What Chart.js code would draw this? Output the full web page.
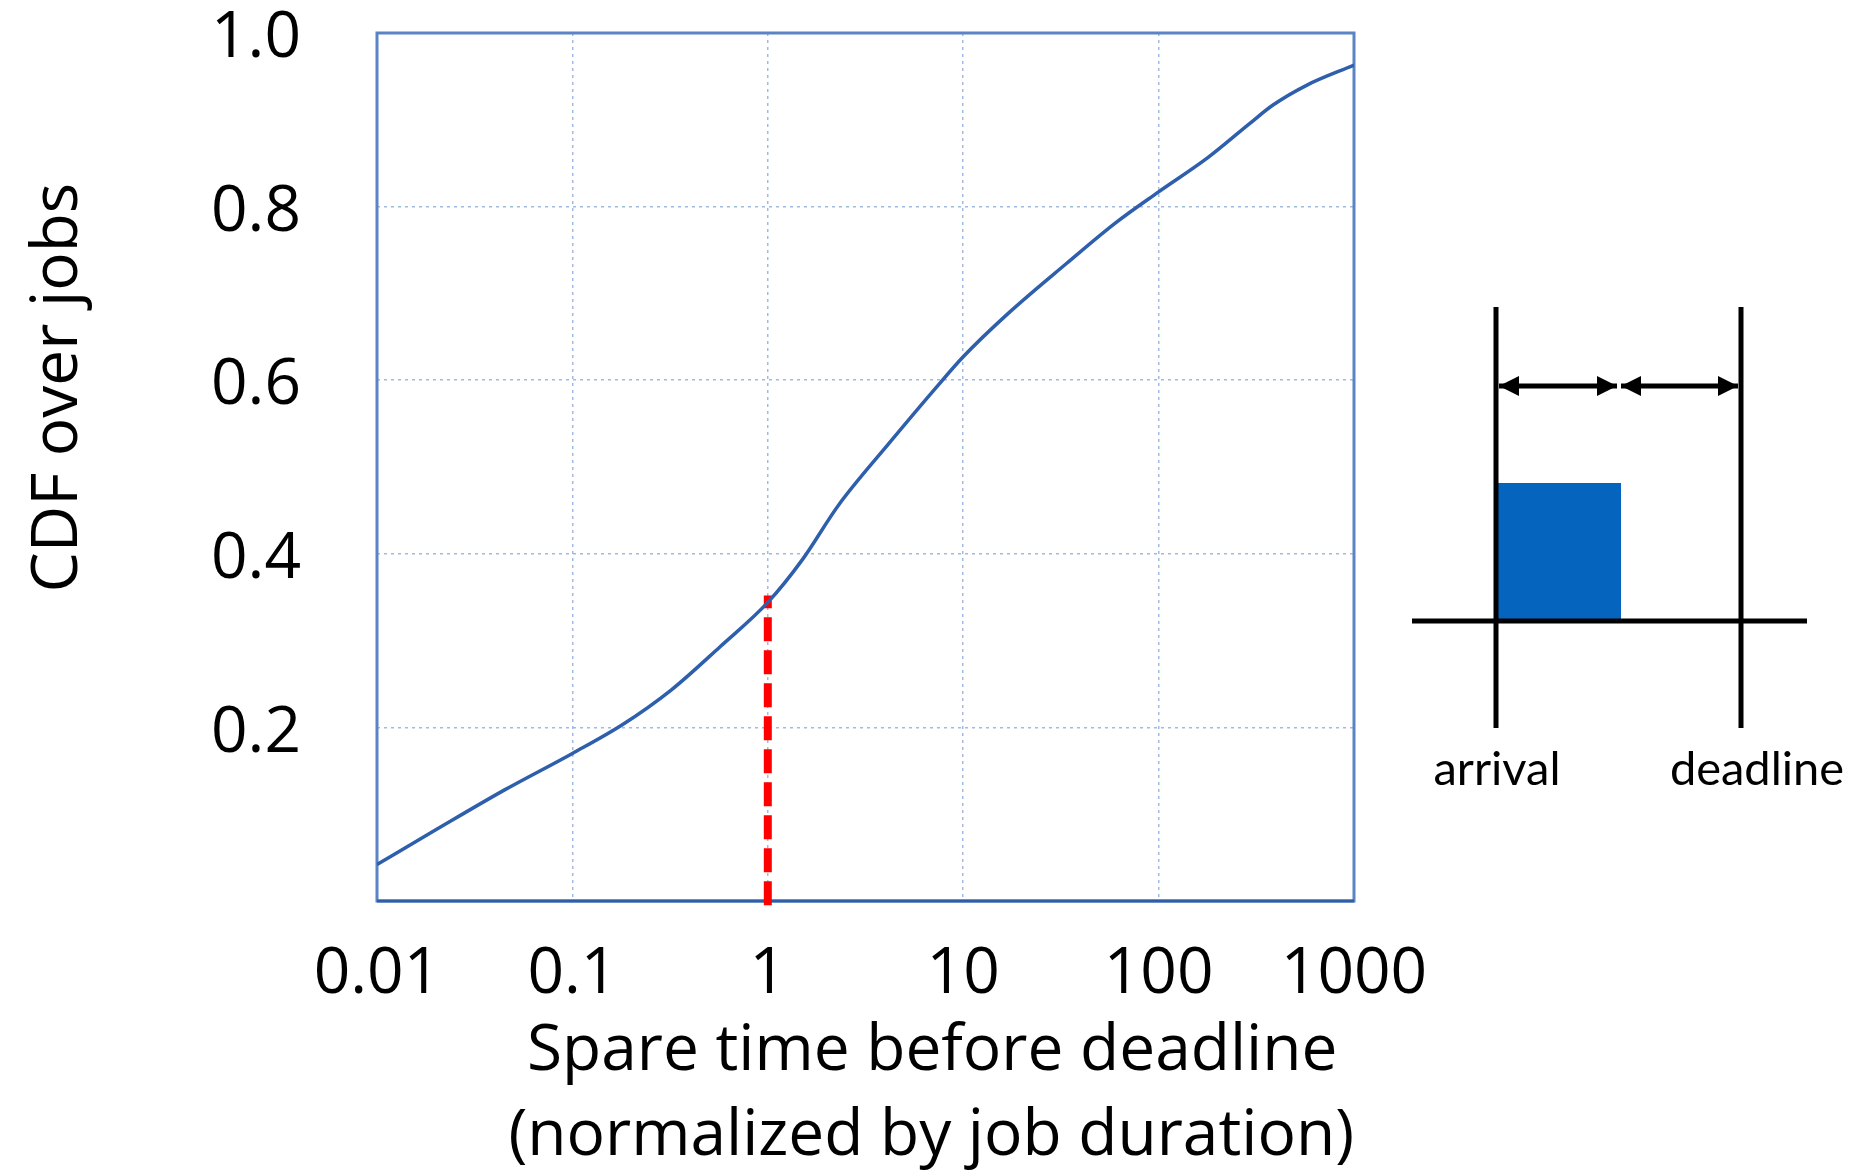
<!DOCTYPE html>
<html>
<head>
<meta charset="utf-8">
<script src="https://cdn.jsdelivr.net/npm/chart.js@4.4.1/dist/chart.umd.min.js"></script>
<style>
  body { margin: 0; background: #fff; overflow: hidden; }
  #wrap { position: relative; width: 1859px; height: 1175px; }
  #grafico { position: absolute; left: 0; top: 0; }
  #esquema { position: absolute; left: 0; top: 0; }
</style>
</head>
<body>
<div id="wrap">
  <canvas id="grafico" width="1859" height="1175"></canvas>
  <svg id="esquema" width="1859" height="1175">
    <defs>
      <marker id="ponta" viewBox="0 0 10 10" refX="10" refY="5" markerWidth="4" markerHeight="4.4" orient="auto-start-reverse">
        <path d="M0,0 L10,5 L0,10 z" fill="#000"/>
      </marker>
    </defs>
    <rect x="1498" y="483" width="123" height="138" fill="#0565be"/>
    <line x1="1496" y1="307" x2="1496" y2="728" stroke="#000" stroke-width="5"/>
    <line x1="1741" y1="307" x2="1741" y2="728" stroke="#000" stroke-width="5"/>
    <line x1="1412" y1="621" x2="1807" y2="621" stroke="#000" stroke-width="5"/>
    <line x1="1499" y1="386" x2="1617" y2="386" stroke="#000" stroke-width="5" marker-start="url(#ponta)" marker-end="url(#ponta)"/>
    <line x1="1621" y1="386" x2="1738" y2="386" stroke="#000" stroke-width="5" marker-start="url(#ponta)" marker-end="url(#ponta)"/>
    <text x="1497" y="785" text-anchor="middle" font-family="Lato" font-size="47">arrival</text>
    <text x="1757" y="785" text-anchor="middle" font-family="Lato" font-size="47">deadline</text>
  </svg>
</div>
<script>
// CDF do tempo livre antes do deadline

const folga = [0.01, 0.02, 0.045, 0.1, 0.18, 0.32, 0.57, 1, 1.5, 2.3, 4.2, 7.3, 10, 17, 34, 60, 100, 180, 290, 385, 575, 1000];
const cdf = [0.042, 0.082, 0.128, 0.170, 0.203, 0.243, 0.293, 0.344, 0.393, 0.456, 0.528, 0.592, 0.627, 0.677, 0.735, 0.781, 0.817, 0.857, 0.895, 0.917, 0.940, 0.963];

const xTicks = [0.01, 0.1, 1, 10, 100, 1000];
const yTicks = [0, 0.2, 0.4, 0.6, 0.8, 1.0];

// linha vermelha em x = 1
const corteX = [1, 1];
const corteY = [-0.005, 0.352];

var pontos = [];
for (let i = 0; i < folga.length; i++) {
  pontos.push({x: folga[i], y: cdf[i]});
}
var corte = [];
for (let i = 0; i < corteX.length; i++) {
  corte.push({x: corteX[i], y: corteY[i]});
}

const corGrade = 'rgba(150, 178, 222, 0.9)';

// moldura azul em volta da area do grafico
const moldura = {
  id: 'moldura',
  beforeDatasetsDraw(chart) {
    const {ctx, chartArea} = chart;
    ctx.save();
    ctx.strokeStyle = '#5a84c4';
    ctx.lineWidth = 3;
    ctx.strokeRect(chartArea.left, chartArea.top, chartArea.right - chartArea.left, chartArea.bottom - chartArea.top);
    ctx.strokeStyle = '#2f5ea8';
    ctx.beginPath();
    ctx.moveTo(chartArea.left, chartArea.bottom);
    ctx.lineTo(chartArea.right, chartArea.bottom);
    ctx.stroke();
    ctx.restore();
  }
};

new Chart(document.getElementById('grafico'), {
  type: 'line',
  data: {
    datasets: [
      {
        label: 'CDF',
        data: pontos,
        borderColor: '#2d5fac',
        borderWidth: 3.5,
        pointRadius: 0,
        cubicInterpolationMode: 'monotone',
        fill: false
      }, {
        label: 'corte',
        data: corte,
        borderColor: '#ff0000',
        borderWidth: 8,
        borderDash: [24, 9],
        pointRadius: 0,
        clip: false,
        fill: false
      }
    ]
  },
  options: {
    responsive: false,
    animation: false,
    layout: {
      padding: {left: 0, top: 33, right: 505, bottom: 0}
    },
    plugins: {
      legend: {display: false},
      tooltip: {enabled: false}
    },
    scales: {
      x: {
        type: 'logarithmic',
        min: 0.01,
        max: 1000,
        afterBuildTicks: (scale) => {
          scale.ticks = xTicks.map(v => ({value: v}));
        },
        afterFit: (scale) => {
          scale.height = 274;
          scale.paddingLeft = 0;
          scale.paddingRight = 0;
        },
        grid: {
          color: corGrade,
          lineWidth: 1.5,
          drawTicks: false
        },
        border: {display: false, dash: [3, 4]},
        ticks: {
          color: '#000',
          padding: 35,
          maxRotation: 0,
          autoSkip: false,
          font: {family: 'Open Sans', size: 64},
          callback: (v) => String(v)
        },
        title: {
          display: true,
          align: 'end',
          text: ['Spare time before deadline ', '(normalized by job duration)'],
          color: '#000',
          font: {family: 'Open Sans', size: 64, lineHeight: 1.33},
          padding: {top: 0, bottom: -4}
        }
      },
      y: {
        min: 0,
        max: 1,
        afterBuildTicks: (scale) => {
          scale.ticks = yTicks.map(v => ({value: v}));
        },
        afterFit: (scale) => {
          scale.width = 377;
          scale.paddingTop = 0;
          scale.paddingBottom = 0;
        },
        grid: {
          color: corGrade,
          lineWidth: 1.5,
          drawTicks: false
        },
        border: {display: false, dash: [3, 4]},
        ticks: {
          color: '#000',
          padding: 76,
          labelOffset: 6,
          font: {family: 'Open Sans', size: 64},
          callback: (v) => v === 0 ? '' : v.toFixed(1)
        },
        title: {
          display: true,
          align: 'end',
          text: 'CDF over jobs         ',
          color: '#000',
          font: {family: 'Open Sans', size: 64, lineHeight: 1.2},
          padding: {top: 20, bottom: 0}
        }
      }
    }
  },
  plugins: [moldura]
});
</script>
</body>
</html>
